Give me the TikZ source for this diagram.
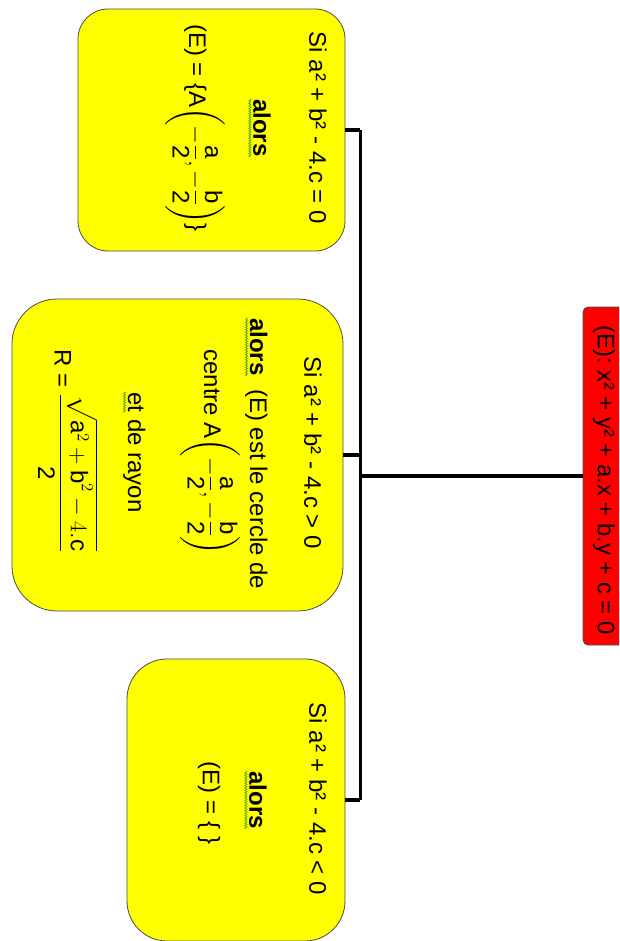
\documentclass[tikz,border=0pt]{standalone}
\usepackage{fix-cm}
\usepackage{fontspec}
\setmainfont{Liberation Sans}
\usepackage{amsmath}
\usetikzlibrary{positioning,decorations.pathmorphing}

\definecolor{caseyellow}{RGB}{255,255,0}
\definecolor{eqred}{RGB}{255,0,0}
\definecolor{spellgreen}{RGB}{80,170,20}

\begin{document}
\begin{tikzpicture}[x=1pt,y=1pt,
    casebox/.style={draw=black!70, fill=caseyellow, line width=0.8pt},
    eqbox/.style={draw=black!70, fill=eqred, rounded corners=5pt, line width=0.8pt},
    txt/.style={rotate=-90, inner sep=0pt, font=\fontsize{24}{29}\selectfont},
    spell/.style={spellgreen, line width=0.7pt, decorate,
      decoration={zigzag, segment length=2.5pt, amplitude=1.1pt}},
    link/.style={line width=3.6pt, black},
    trunk/.style={line width=3pt, black}]
\useasboundingbox (0,0) rectangle (619,-941);
\clip (0,0) rectangle (619,-941);

% the equation
\node[eqbox, minimum width=42pt, minimum height=338pt] (eq) at (604,-476) {};
\node[txt, font=\fontsize{23.8}{28}\selectfont] (eqtext) at (604,-480) {(E): x² + y² + a.x + b.y + c = 0};

% the three cases
\node[casebox, rounded corners=30pt, minimum width=267pt, minimum height=242pt] (zero) at (211.5,-130) {};
\node[casebox, rounded corners=45pt, minimum width=331pt, minimum height=312pt] (pos) at (177.5,-455) {};
\node[casebox, rounded corners=40pt, minimum width=218pt, minimum height=282pt] (neg) at (236,-800) {};

% case = 0
\node[txt] (zeroif) at (318,-128) {Si a² + b² - 4.c = 0};
\node[txt] (zerothen) at (262,-128) {\bfseries alors};
\node[txt] (zeroset) at (195,-128) {(E) = \{A$\left(-\dfrac{\text{a}}{\text{2}},-\dfrac{\text{b}}{\text{2}}\right)$\}};

% case > 0
\node[txt] (posif) at (313,-453) {Si a² + b² - 4.c > 0};
\node[txt, anchor=base west] (posthen) at (250,-318) {\bfseries alors};
\node[txt, anchor=base west] (poscircle) at (posthen.base east) {\ \ (E) est le cercle de};
\node[txt] (poscentre) at (210,-452) {centre A$\left(-\dfrac{\text{a}}{\text{2}},-\dfrac{\text{b}}{\text{2}}\right)$};
\node[txt, anchor=base west] (poset) at (128,-392) {et};
\node[txt, anchor=base west] (posrayon) at (poset.base east) {\ de rayon};
\node[txt] (posR) at (68,-451) {R = $\dfrac{\sqrt{\text{a}^{2}+\text{b}^{2}-4.\text{c}}}{\text{2}}$};

% case < 0
\node[txt] (negif) at (318,-799) {Si a² + b² - 4.c < 0};
\node[txt] (negthen) at (258,-800) {\bfseries alors};
\node[txt] (negset) at (209,-803) {(E) = \{ \}};

% spell-check marks
\foreach \w in {zerothen,posthen,poset,negthen}
  \draw[spell] ([xshift=-3.5pt]\w.base west) -- ([xshift=-3.5pt]\w.base east);

% connectors
\coordinate (hub) at (360,-476);
\draw[link] (eq.west) -- (hub);
\draw[trunk] (hub |- zero.east) -- (hub |- neg.east);
\draw[link] (zero.east) -- (zero.east -| hub);
\draw[link] (pos.east) -- (pos.east -| hub);
\draw[link] (neg.east) -- (neg.east -| hub);
\end{tikzpicture}
\end{document}
